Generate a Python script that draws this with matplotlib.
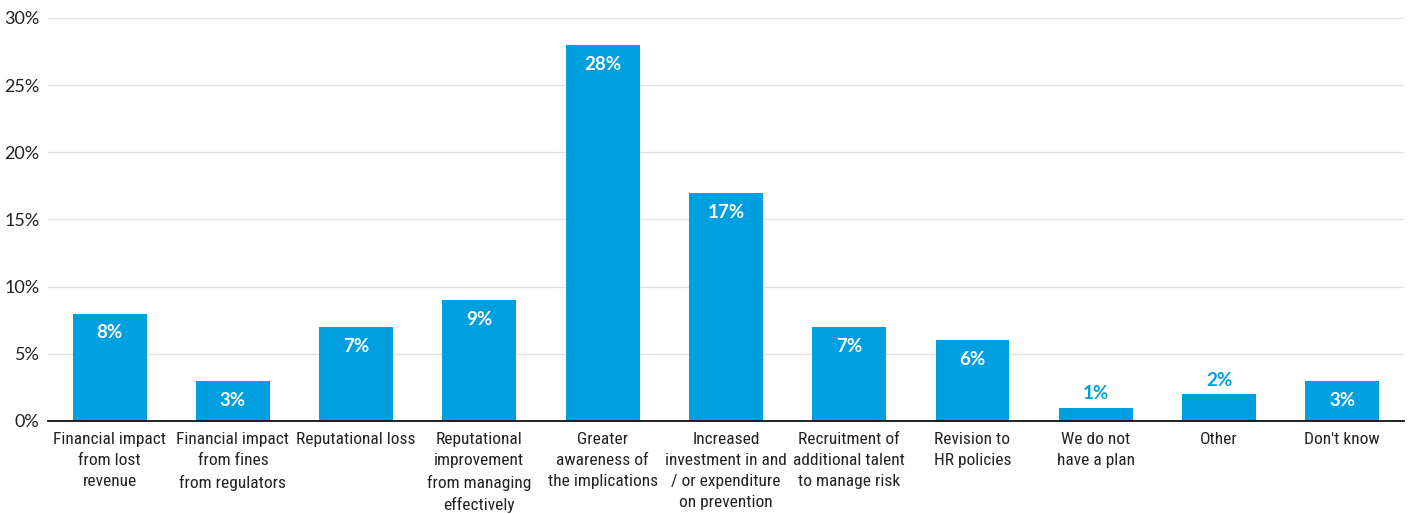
import matplotlib
matplotlib.use("Agg")
import matplotlib.pyplot as plt

categories = [
    "Financial impact\nfrom lost\nrevenue",
    "Financial impact\nfrom fines\nfrom regulators",
    "Reputational loss",
    "Reputational\nimprovement\nfrom managing\neffectively",
    "Greater\nawareness of\nthe implications",
    "Increased\ninvestment in and\n/ or expenditure\non prevention",
    "Recruitment of\nadditional talent\nto manage risk",
    "Revision to\nHR policies",
    "We do not\nhave a plan",
    "Other",
    "Don't know",
]
values = [8, 3, 7, 9, 28, 17, 7, 6, 1, 2, 3]
yticks = [0, 5, 10, 15, 20, 25, 30]

blue = "#00a0e0"
label_font = ["Roboto Condensed", "DejaVu Sans"]
num_font = ["Lato", "DejaVu Sans"]

fig = plt.figure(figsize=(14.11, 5.14), dpi=100)
ax = fig.add_axes([0.034, 0.181, 0.961, 0.784])

x = list(range(len(values)))
ax.bar(x, values, width=0.6, color=blue, zorder=3)

# big bars get the value inside in white, tiny bars get it on top in blue
for xi, v in zip(x, values):
    if v >= 3:
        ax.annotate(f"{v}%", (xi, v), xytext=(0, -14), textcoords="offset points",
                    ha="center", va="center", color="white", fontsize=13.5,
                    fontweight="bold", family=num_font)
    else:
        ax.annotate(f"{v}%", (xi, v), xytext=(0, 10), textcoords="offset points",
                    ha="center", va="center", color=blue, fontsize=13.5,
                    fontweight="bold", family=num_font)

ax.set_xlim(-0.5, len(values) - 0.5)
ax.set_ylim(0, 30)
ax.set_yticks(yticks)
ax.set_yticklabels([f"{t}%" for t in yticks], fontsize=13, family=num_font, color="#222222")
ax.set_xticks(x)
ax.set_xticklabels(categories, fontsize=12.5, family=label_font, color="#222222", linespacing=1.5)
ax.tick_params(axis="both", length=0)
ax.tick_params(axis="x", pad=8)
ax.tick_params(axis="y", pad=6)

ax.grid(axis="y", color="#e2e2e2", linewidth=1, zorder=0)
for s in ["top", "right", "left"]:
    ax.spines[s].set_visible(False)
ax.spines["bottom"].set_color("#111111")
ax.spines["bottom"].set_linewidth(1.3)
ax.spines["bottom"].set_zorder(4)

fig.savefig("out.png", dpi=100)
